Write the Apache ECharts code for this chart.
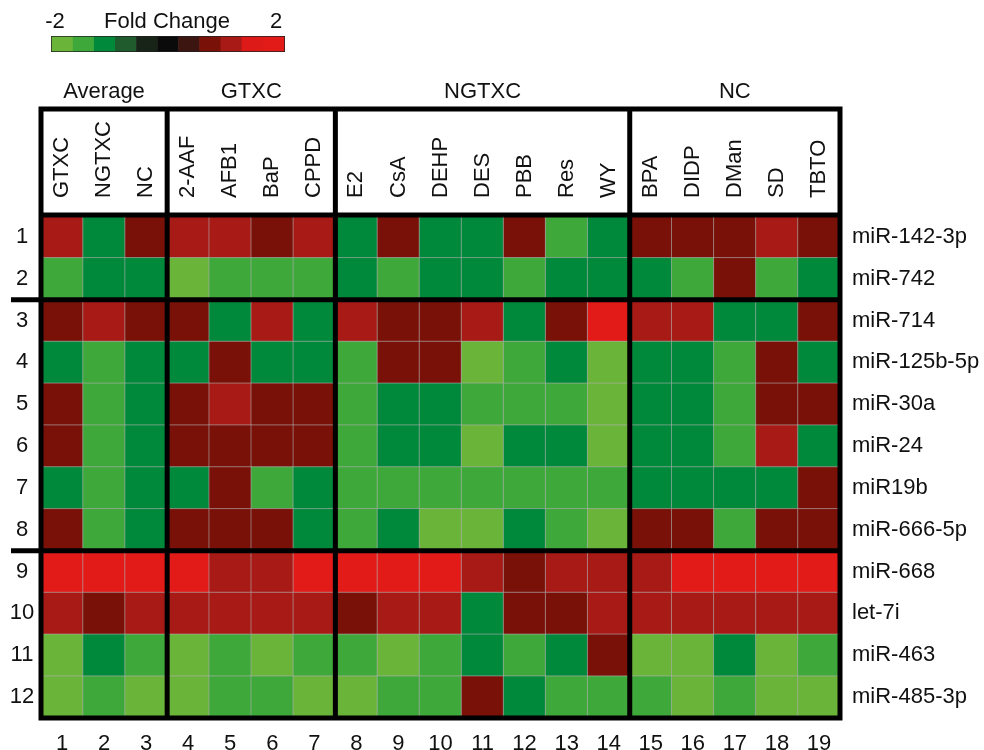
<!DOCTYPE html>
<html>
<head>
<meta charset="utf-8">
<script src="https://cdn.jsdelivr.net/npm/echarts/dist/echarts.min.js"></script>
<style>
  html, body { margin: 0; padding: 0; background: #ffffff; }
  #chart { width: 984px; height: 750px; }
</style>
</head>
<body>
<div id="chart"></div>
<script>
// ---- data ----
const columnNames = ['GTXC', 'NGTXC', 'NC', '2-AAF', 'AFB1', 'BaP', 'CPPD',
  'E2', 'CsA', 'DEHP', 'DES', 'PBB', 'Res', 'WY', 'BPA', 'DIDP', 'DMan', 'SD', 'TBTO'];
const columnNumbers = ['1', '2', '3', '4', '5', '6', '7', '8', '9', '10',
  '11', '12', '13', '14', '15', '16', '17', '18', '19'];
const groupNames = ['Average', 'GTXC', 'NGTXC', 'NC'];
const groupSizes = [3, 4, 7, 5];
const rowNumbers = ['1', '2', '3', '4', '5', '6', '7', '8', '9', '10', '11', '12'];
const mirnaNames = ['miR-142-3p', 'miR-742', 'miR-714', 'miR-125b-5p', 'miR-30a', 'miR-24',
  'miR19b', 'miR-666-5p', 'miR-668', 'let-7i', 'miR-463', 'miR-485-3p'];
const clusterBreaks = [2, 8];   // thick separators after these rows

// fold change scale (-2 .. 2) and its colour steps
const legendSteps = [-2, -1.6, -1.2, -0.8, -0.4, 0, 0.4, 0.8, 1.2, 1.6, 2];
const stepColors = ['#6bb43a', '#3fa83b', '#00883b', '#1f5b2c', '#182418', '#0b0b0b',
  '#3c1510', '#791108', '#a81a16', '#dd1a18', '#e21b19'];

// fold changes per miRNA, one value per column
const miR142_3p  = [1.2, -1.2, 0.8,  1.2, 1.2, 0.8, 1.2,  -1.2, 0.8, -1.2, -1.2, 0.8, -1.6, -1.2,  0.8, 0.8, 0.8, 1.2, 0.8];
const miR742     = [-1.6, -1.2, -1.2,  -2, -1.6, -1.6, -1.6,  -1.2, -1.6, -1.2, -1.2, -1.6, -1.2, -1.2,  -1.2, -1.6, 0.8, -1.6, -1.2];
const miR714     = [0.8, 1.2, 0.8,  0.8, -1.2, 1.2, -1.2,  1.2, 0.8, 0.8, 1.2, -1.2, 0.8, 2,  1.2, 1.2, -1.2, -1.2, 0.8];
const miR125b_5p = [-1.2, -1.6, -1.2,  -1.2, 0.8, -1.2, -1.2,  -1.6, 0.8, 0.8, -2, -1.6, -1.2, -2,  -1.2, -1.2, -1.6, 0.8, -1.2];
const miR30a     = [0.8, -1.6, -1.2,  0.8, 1.2, 0.8, 0.8,  -1.6, -1.2, -1.2, -1.6, -1.6, -1.6, -2,  -1.2, -1.2, -1.6, 0.8, 0.8];
const miR24      = [0.8, -1.6, -1.2,  0.8, 0.8, 0.8, 0.8,  -1.6, -1.2, -1.2, -2, -1.2, -1.2, -2,  -1.2, -1.2, -1.6, 1.2, -1.2];
const miR19b     = [-1.2, -1.6, -1.2,  -1.2, 0.8, -1.6, -1.2,  -1.6, -1.6, -1.6, -1.6, -1.6, -1.6, -1.6,  -1.2, -1.2, -1.2, -1.2, 0.8];
const miR666_5p  = [0.8, -1.6, -1.2,  0.8, 0.8, 0.8, -1.2,  -1.6, -1.2, -2, -2, -1.2, -1.6, -2,  0.8, 0.8, -1.6, 0.8, 0.8];
const miR668     = [2, 2, 2,  2, 1.2, 1.2, 2,  2, 2, 2, 1.2, 0.8, 1.2, 1.2,  1.2, 2, 2, 2, 2];
const let7i      = [1.2, 0.8, 1.2,  1.2, 1.2, 1.2, 1.2,  0.8, 1.2, 1.2, -1.2, 0.8, 0.8, 1.2,  1.2, 1.2, 1.2, 1.2, 1.2];
const miR463     = [-2, -1.2, -1.6,  -2, -1.6, -2, -1.6,  -1.6, -2, -1.6, -1.2, -1.6, -1.2, 0.8,  -2, -2, -1.2, -2, -1.6];
const miR485_3p  = [-2, -1.6, -2,  -2, -1.6, -1.6, -2,  -2, -1.6, -1.6, 0.8, -1.2, -1.6, -1.6,  -1.6, -2, -1.6, -2, -2];

const foldChanges = [miR142_3p, miR742, miR714, miR125b_5p, miR30a, miR24,
  miR19b, miR666_5p, miR668, let7i, miR463, miR485_3p];

// ---- chart ----
const FONT = 'Liberation Sans, Arial, Helvetica, sans-serif';
const FS = 22;
const INK = '#111111';

const cells = [];
foldChanges.forEach((row, r) => row.forEach((v, c) => cells.push([c, r, v])));
const legendCells = legendSteps.map((v, i) => [i, 0, v]);

const pieces = legendSteps.map((v, i) => ({ gte: v - 0.2, lt: v + 0.2, color: stepColors[i] }));

const chart = echarts.init(document.getElementById('chart'), null, { renderer: 'canvas' });

const plainAxis = { axisLine: { show: false }, axisTick: { show: false }, splitLine: { show: false } };

chart.setOption({
  backgroundColor: '#ffffff',
  animation: false,
  textStyle: { fontFamily: FONT },
  grid: [
    { left: 41, right: 144, top: 216, bottom: 32, containLabel: false, outerBoundsMode: 'none' },
    { left: 52, top: 37, width: 232, height: 14, show: true, borderColor: '#222', borderWidth: 2,
      backgroundColor: 'transparent', containLabel: false, outerBoundsMode: 'none' }
  ],
  xAxis: [
    Object.assign({ type: 'category', gridIndex: 0, position: 'top', data: columnNames,
      axisLabel: { rotate: -90, margin: 18, fontSize: FS, color: INK, fontFamily: FONT } }, plainAxis),
    Object.assign({ type: 'category', gridIndex: 0, position: 'bottom', data: columnNumbers,
      axisLabel: { margin: 15, fontSize: FS, color: INK, fontFamily: FONT } }, plainAxis),
    Object.assign({ type: 'category', gridIndex: 1, data: legendSteps.map(String), axisLabel: { show: false } }, plainAxis)
  ],
  yAxis: [
    Object.assign({ type: 'category', gridIndex: 0, position: 'left', inverse: true, data: rowNumbers,
      axisLabel: { margin: 19, align: 'center', fontSize: FS, color: INK, fontFamily: FONT } }, plainAxis),
    Object.assign({ type: 'category', gridIndex: 0, position: 'right', inverse: true, data: mirnaNames,
      axisLabel: { margin: 12, align: 'left', fontSize: FS, color: INK, fontFamily: FONT } }, plainAxis),
    Object.assign({ type: 'category', gridIndex: 1, data: ['fc'], axisLabel: { show: false } }, plainAxis)
  ],
  visualMap: {
    type: 'piecewise', show: false, dimension: 2, seriesIndex: [0, 1], pieces: pieces
  },
  series: [
    {
      type: 'heatmap', xAxisIndex: 0, yAxisIndex: 0, data: cells,
      itemStyle: { borderColor: 'rgba(175,175,175,0.6)', borderWidth: 1 },
      emphasis: { disabled: true }
    },
    {
      type: 'heatmap', xAxisIndex: 2, yAxisIndex: 2, data: legendCells,
      itemStyle: { borderWidth: 0 },
      emphasis: { disabled: true }
    }
  ]
});

// ---- frame, separators and group headings, placed from the axis scales ----
const px = c => chart.convertToPixel({ xAxisIndex: 0 }, c);
const py = r => chart.convertToPixel({ yAxisIndex: 0 }, r);
const colW = (px(columnNames[columnNames.length - 1]) - px(columnNames[0])) / (columnNames.length - 1);
const rowH = (py(rowNumbers[rowNumbers.length - 1]) - py(rowNumbers[0])) / (rowNumbers.length - 1);
const x0 = px(columnNames[0]) - colW / 2;
const x1 = x0 + colW * columnNames.length;
const y0 = py(rowNumbers[0]) - rowH / 2;
const y1 = y0 + rowH * rowNumbers.length;
const headerTop = y0 - 107;
const LW = 5;

const lineStyle = { stroke: '#000', lineWidth: LW };
const elements = [];
const addLine = (ax, ay, bx, by) => elements.push({
  type: 'line', silent: true, z: 100,
  shape: { x1: ax, y1: ay, x2: bx, y2: by }, style: lineStyle
});

// outer frame around header + cells
elements.push({
  type: 'rect', silent: true, z: 100,
  shape: { x: x0, y: headerTop, width: x1 - x0, height: y1 - headerTop },
  style: { fill: 'none', stroke: '#000', lineWidth: LW }
});
// header / cells divider
addLine(x0, y0 - 1, x1, y0 - 1);
// group dividers and headings
let start = 0;
groupSizes.forEach((n, g) => {
  const mid = x0 + (start + n / 2) * colW;
  elements.push({
    type: 'text', silent: true, z: 100,
    style: { text: groupNames[g], x: mid, y: headerTop - 17, fill: INK,
      font: FS + 'px ' + FONT, textAlign: 'center', textVerticalAlign: 'middle' }
  });
  start += n;
  if (start < columnNames.length) addLine(x0 + start * colW, headerTop, x0 + start * colW, y1);
});
// cluster separators, reaching out past the row numbers
clusterBreaks.forEach(b => addLine(11, y0 + b * rowH, x1, y0 + b * rowH));

// colour key captions
const lx = c => chart.convertToPixel({ xAxisIndex: 2 }, c);
const keyW = (lx(String(legendSteps[legendSteps.length - 1])) - lx(String(legendSteps[0]))) / (legendSteps.length - 1);
const keyL = lx(String(legendSteps[0])) - keyW / 2;
const keyR = keyL + keyW * legendSteps.length;
const keyTop = chart.convertToPixel({ yAxisIndex: 2 }, 'fc') - 7;
const caption = (text, x) => elements.push({
  type: 'text', silent: true, z: 100,
  style: { text: text, x: x, y: keyTop - 15, fill: INK, font: FS + 'px ' + FONT,
    textAlign: 'center', textVerticalAlign: 'middle' }
});
caption(String(legendSteps[0]), keyL + 3);
caption('Fold Change', (keyL + keyR) / 2 - 1);
caption(String(legendSteps[legendSteps.length - 1]), keyR - 8);

chart.setOption({ graphic: { elements: elements } });
</script>
</body>
</html>
